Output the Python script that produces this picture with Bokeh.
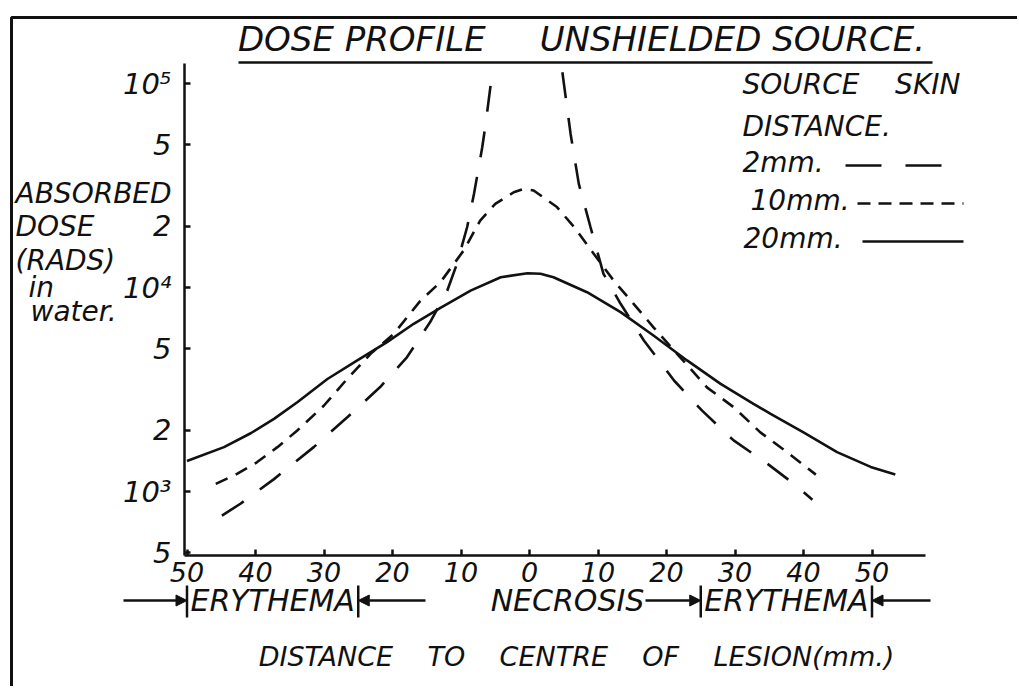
from bokeh.plotting import figure
from bokeh.models import (Range1d, LinearAxis, LogAxis, FixedTicker, Label,
                          Arrow, NormalHead)
from bokeh.embed import file_html
from bokeh.resources import INLINE

# ---------------- data ----------------
# distance to centre of lesion (mm, negative = left side) and absorbed dose (rads)
dist_20mm = [-50, -44.6, -40.7, -37.3, -33.9, -29.5, -25.2, -20.8, -16.9, -13, -8.6,
             -4.2, -0.3, 1.6, 3.5, 8.4, 13.3, 18.1, 23, 27.9, 32.7, 35.2, 40, 44.9,
             49.8, 53.4]
dose_20mm = [1410, 1650, 1930, 2270, 2740, 3560, 4380, 5400, 6640, 7950, 9660,
             11230, 11740, 11680, 11220, 9480, 7570, 5820, 4390, 3370, 2690, 2400,
             1950, 1560, 1320, 1210]

dist_10mm = [-45.8, -42.7, -39.8, -36.8, -33.9, -30, -26.6, -23.2, -19.8, -15.9, -13,
             -9.6, -7.2, -5, -2.3, -0.8, 0.6, 4.0, 6.5, 9.4, 12.3, 15.2, 18.1, 22,
             25.9, 29.8, 33.7, 37.6, 41.8]
dose_10mm = [1090, 1220, 1390, 1650, 1990, 2640, 3570, 4730, 5930, 8630, 10620,
             15200, 21300, 25700, 29300, 30500, 29900, 24800, 19800, 14600, 10800,
             8320, 6380, 4550, 3240, 2590, 1950, 1560, 1210]

dist_2mm_left = [-44.9, -42.2, -37.3, -31.5, -26.6, -21.8, -17.9, -14.5, -12, -10.6,
                 -9.1, -8.1, -6.9, -6.4, -5.4]
dose_2mm_left = [762, 871, 1150, 1650, 2310, 3250, 4550, 6770, 9660, 13050,
                 19800, 28800, 48700, 63400, 116000]
dist_2mm_right = [4.8, 6.0, 7.2, 8.9, 10.8, 13.3, 16.7, 21.1, 25.2, 29.8, 34.7,
                  38.6, 41.3]
dose_2mm_right = [113500, 56600, 32200, 19800, 11670, 8320, 5500, 3500, 2490, 1780,
                  1370, 1090, 910]

x_ticks = [-50, -40, -30, -20, -10, 0, 10, 20, 30, 40, 50]
x_tick_labels = ["50", "40", "30", "20", "10", "0", "10", "20", "30", "40", "50"]
y_ticks = [500, 1000, 2000, 5000, 10000, 20000, 50000, 100000]
y_tick_labels = ["5", "10³", "2", "5", "10⁴", "2", "5", "10⁵"]

zone_edges = [-50, -25, 25, 50]
legend_labels = ["2mm.", "10mm.", "20mm."]

NB = "\u00a0"
title_text = "DOSE PROFILE" + NB * 5 + "UNSHIELDED SOURCE."
x_title = ("DISTANCE" + NB * 4 + "TO" + NB * 4 + "CENTRE" + NB * 4 + "OF" + NB * 4
           + "LESION(mm.)")
y_title_lines = ["ABSORBED", "DOSE", "(RADS)", "in", "water."]
legend_head = ["SOURCE" + NB * 4 + "SKIN", "DISTANCE."]

# ---------------- layout ----------------
W, H = 1017, 686
OFF = 0
PX_PER_MM = 6.85
X0_PAGE = 529
PX_PER_DEC = 204.0
Y1000_PAGE = 491


def X(page_x):
    return (page_x - X0_PAGE) / PX_PER_MM


def Y(page_y):
    return 10 ** (3 + (Y1000_PAGE - page_y) / PX_PER_DEC)


FONT = "DejaVu Sans"
INK = "#111111"

p = figure(width=W, height=H,
           x_range=Range1d(X(OFF), X(OFF + W)),
           y_range=Range1d(Y(OFF + H), Y(OFF)),
           y_axis_type="log", x_axis_location=None, y_axis_location=None,
           title=None, toolbar_location=None, output_backend="svg", min_border=0)
p.outline_line_color = None
p.background_fill_color = "white"
p.border_fill_color = "white"
p.grid.visible = False

ax_left, ax_right, ax_top, ax_bottom = X(184), X(925), Y(63), Y(555)

xaxis = LinearAxis(fixed_location=ax_bottom, bounds=(ax_left, ax_right),
                   ticker=FixedTicker(ticks=x_ticks),
                   major_label_overrides=dict(zip(x_ticks, x_tick_labels)))
yaxis = LogAxis(fixed_location=ax_left, bounds=(ax_bottom, ax_top),
                ticker=FixedTicker(ticks=y_ticks),
                major_label_overrides=dict(zip(y_ticks, y_tick_labels)))
for ax, size, standoff in ((xaxis, "27px", 6), (yaxis, "29px", 13)):
    ax.axis_line_width = 2.5
    ax.axis_line_color = INK
    ax.major_tick_line_width = 2.5
    ax.major_tick_line_color = INK
    ax.major_tick_in = 6
    ax.major_tick_out = 0
    ax.minor_tick_in = 0
    ax.minor_tick_out = 0
    ax.major_label_text_font = FONT
    ax.major_label_text_font_style = "italic"
    ax.major_label_text_font_size = size
    ax.major_label_text_color = INK
    ax.major_label_standoff = standoff
p.add_layout(xaxis, "below")
p.add_layout(yaxis, "left")

# ---------------- curves ----------------
p.line(dist_20mm, dose_20mm, line_width=2.6, line_color=INK)
p.line(dist_10mm, dose_10mm, line_width=2.6, line_color=INK, line_dash="13 9")
p.multi_line([dist_2mm_left, dist_2mm_right], [dose_2mm_left, dose_2mm_right],
             line_width=2.6, line_color=INK, line_dash="26 20")

# ---------------- frame & title ----------------
p.line([X(11), X(11), X(OFF + W)], [Y(OFF + H), Y(17), Y(17)],
       line_width=3, line_color=INK)
p.add_layout(Label(x=X(581), y=Y(38), text=title_text, text_align="center",
                   text_baseline="middle", text_font=FONT, text_font_style="italic",
                   text_font_size="34px", text_color=INK))
p.line([X(238), X(932)], [Y(62), Y(62)], line_width=2.5, line_color=INK)

# ---------------- y title ----------------
for txt, lx, ly in zip(y_title_lines, [15, 15, 15, 28, 30], [193, 226, 260, 287, 311]):
    p.add_layout(Label(x=X(lx), y=Y(ly), text=txt, text_align="left",
                       text_baseline="middle", text_font=FONT,
                       text_font_style="italic", text_font_size="28px",
                       text_color=INK))

# ---------------- legend ----------------
for txt, ly in zip(legend_head, (84, 126)):
    p.add_layout(Label(x=X(742), y=Y(ly), text=txt, text_align="left",
                       text_baseline="middle", text_font=FONT,
                       text_font_style="italic", text_font_size="28px",
                       text_color=INK))
leg_rows = [(742, 162, 845, 942, "36 24"), (750, 200, 857, 963, "13 8"),
            (743, 238, 862, 963, "solid")]
for lab, (tx, ty, l0, l1, dash) in zip(legend_labels, leg_rows):
    p.add_layout(Label(x=X(tx), y=Y(ty), text=lab, text_align="left",
                       text_baseline="middle", text_font=FONT,
                       text_font_style="italic", text_font_size="28px",
                       text_color=INK))
    p.line([X(l0), X(l1)], [Y(ty + 3), Y(ty + 3)], line_width=2.6,
           line_color=INK, line_dash=dash)

# ---------------- erythema / necrosis zones ----------------
zy = Y(600)
p.segment(x0=zone_edges, x1=zone_edges, y0=[Y(585)] * 4, y1=[Y(617)] * 4,
          line_width=2.5, line_color=INK)
for xs, xe in ((X(123), zone_edges[0]), (X(425), zone_edges[1]),
               (X(645), zone_edges[2]), (X(930), zone_edges[3])):
    p.add_layout(Arrow(end=NormalHead(size=11, fill_color=INK, line_color=INK),
                       x_start=xs, y_start=zy, x_end=xe, y_end=zy,
                       line_width=2.5, line_color=INK))
for txt, cx in (("ERYTHEMA", (zone_edges[0] + zone_edges[1]) / 2),
                ("NECROSIS", X(567)),
                ("ERYTHEMA", (zone_edges[2] + zone_edges[3]) / 2)):
    p.add_layout(Label(x=cx, y=zy, text=txt, text_align="center",
                       text_baseline="middle", text_font=FONT,
                       text_font_style="italic", text_font_size="30px",
                       text_color=INK))

# ---------------- x title ----------------
p.add_layout(Label(x=X(576), y=Y(656), text=x_title, text_align="center",
                   text_baseline="middle", text_font=FONT, text_font_style="italic",
                   text_font_size="27px", text_color=INK))

open("out.html", "w").write(file_html(p, INLINE))
